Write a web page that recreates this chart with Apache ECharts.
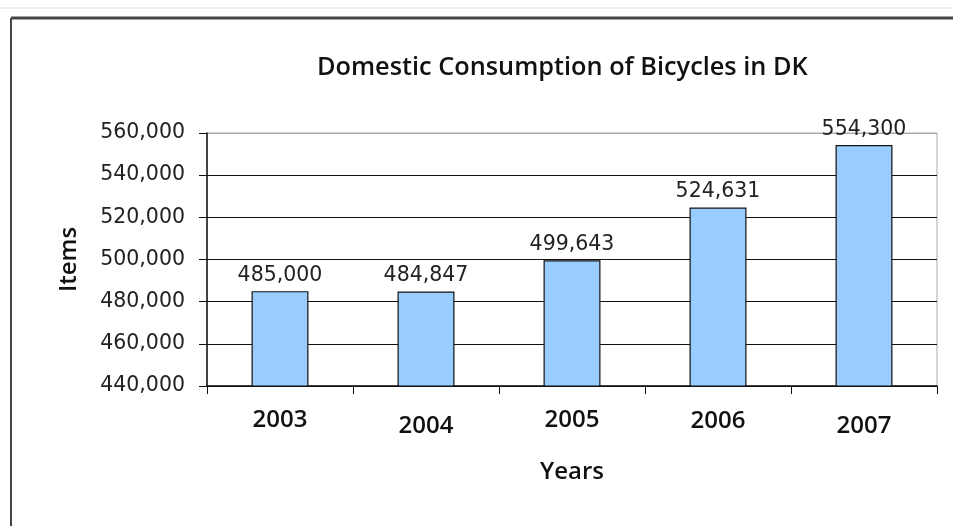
<!DOCTYPE html>
<html>
<head>
<meta charset="utf-8">
<script src="https://cdn.jsdelivr.net/npm/echarts@6/dist/echarts.min.js"></script>
<style>
  html, body { margin: 0; padding: 0; background: #fff; }
  #chart { width: 953px; height: 526px; }
</style>
</head>
<body>
<div id="chart"></div>
<script>
const years = ['2003', '2004', '2005', '2006', '2007'];
const items = [485000, 484847, 499643, 524631, 554300];
// small vertical offsets of the year labels, as in the original
const yearLabelShift = [0, 6, 0, 1, 6];

const chart = echarts.init(document.getElementById('chart'));

const fmt = v => v.toLocaleString('en-US');

const option = {
  animation: false,
  backgroundColor: '#fff',
  title: {
    text: 'Domestic Consumption of Bicycles in DK',
    left: 312,
    top: 50,
    textStyle: { fontFamily: 'Open Sans', fontWeight: 600, fontSize: 25.3, color: '#111' }
  },
  grid: {
    left: 207, right: 16, top: 133, bottom: 140,
    show: true, borderColor: '#aaa', borderWidth: 1
  },
  xAxis: {
    type: 'category',
    data: years.map((y, i) => ({ value: y, textStyle: { padding: [yearLabelShift[i], 0, 0, 0] } })),
    name: 'Years',
    nameLocation: 'middle',
    nameGap: 74,
    nameTextStyle: { fontFamily: 'Open Sans', fontWeight: 600, fontSize: 24, color: '#111' },
    axisLine: { lineStyle: { color: '#111', width: 1.5 } },
    axisTick: { show: true, length: 8, lineStyle: { color: '#111' } },
    axisLabel: { margin: 22, fontFamily: 'Open Sans', fontWeight: 600, fontSize: 24, color: '#111' }
  },
  yAxis: {
    type: 'value',
    min: 440000,
    max: 560000,
    interval: 20000,
    name: 'Items',
    nameLocation: 'middle',
    nameRotate: 90,
    nameGap: 126,
    nameTextStyle: { fontFamily: 'Open Sans', fontWeight: 600, fontSize: 24, color: '#111' },
    axisLine: { show: true, lineStyle: { color: '#111', width: 1.5 } },
    axisTick: { show: true, length: 8, lineStyle: { color: '#111' } },
    axisLabel: { margin: 22, formatter: fmt, fontFamily: 'DejaVu Sans', fontSize: 20.5, color: '#222' },
    splitLine: {
      lineStyle: { color: ['#111', '#111', '#111', '#111', '#111', '#111', '#aaa'], width: 1.2 }
    }
  },
  series: [{
    type: 'bar',
    data: items,
    barWidth: '39%',
    itemStyle: { color: '#99ccff', borderColor: '#111', borderWidth: 1.2 },
    label: {
      show: true,
      position: 'top',
      distance: 5,
      formatter: p => fmt(p.value),
      fontFamily: 'DejaVu Sans',
      fontSize: 20.5,
      color: '#222'
    }
  }],
  graphic: [
    { type: 'line', shape: { x1: 11, y1: 18, x2: 953, y2: 18 }, style: { stroke: '#444', lineWidth: 3 } },
    { type: 'line', shape: { x1: 11, y1: 18, x2: 11, y2: 526 }, style: { stroke: '#444', lineWidth: 2 } },
    { type: 'line', shape: { x1: 0, y1: 8, x2: 953, y2: 8 }, style: { stroke: '#ddd', lineWidth: 1 } }
  ]
};

chart.setOption(option);
</script>
</body>
</html>
